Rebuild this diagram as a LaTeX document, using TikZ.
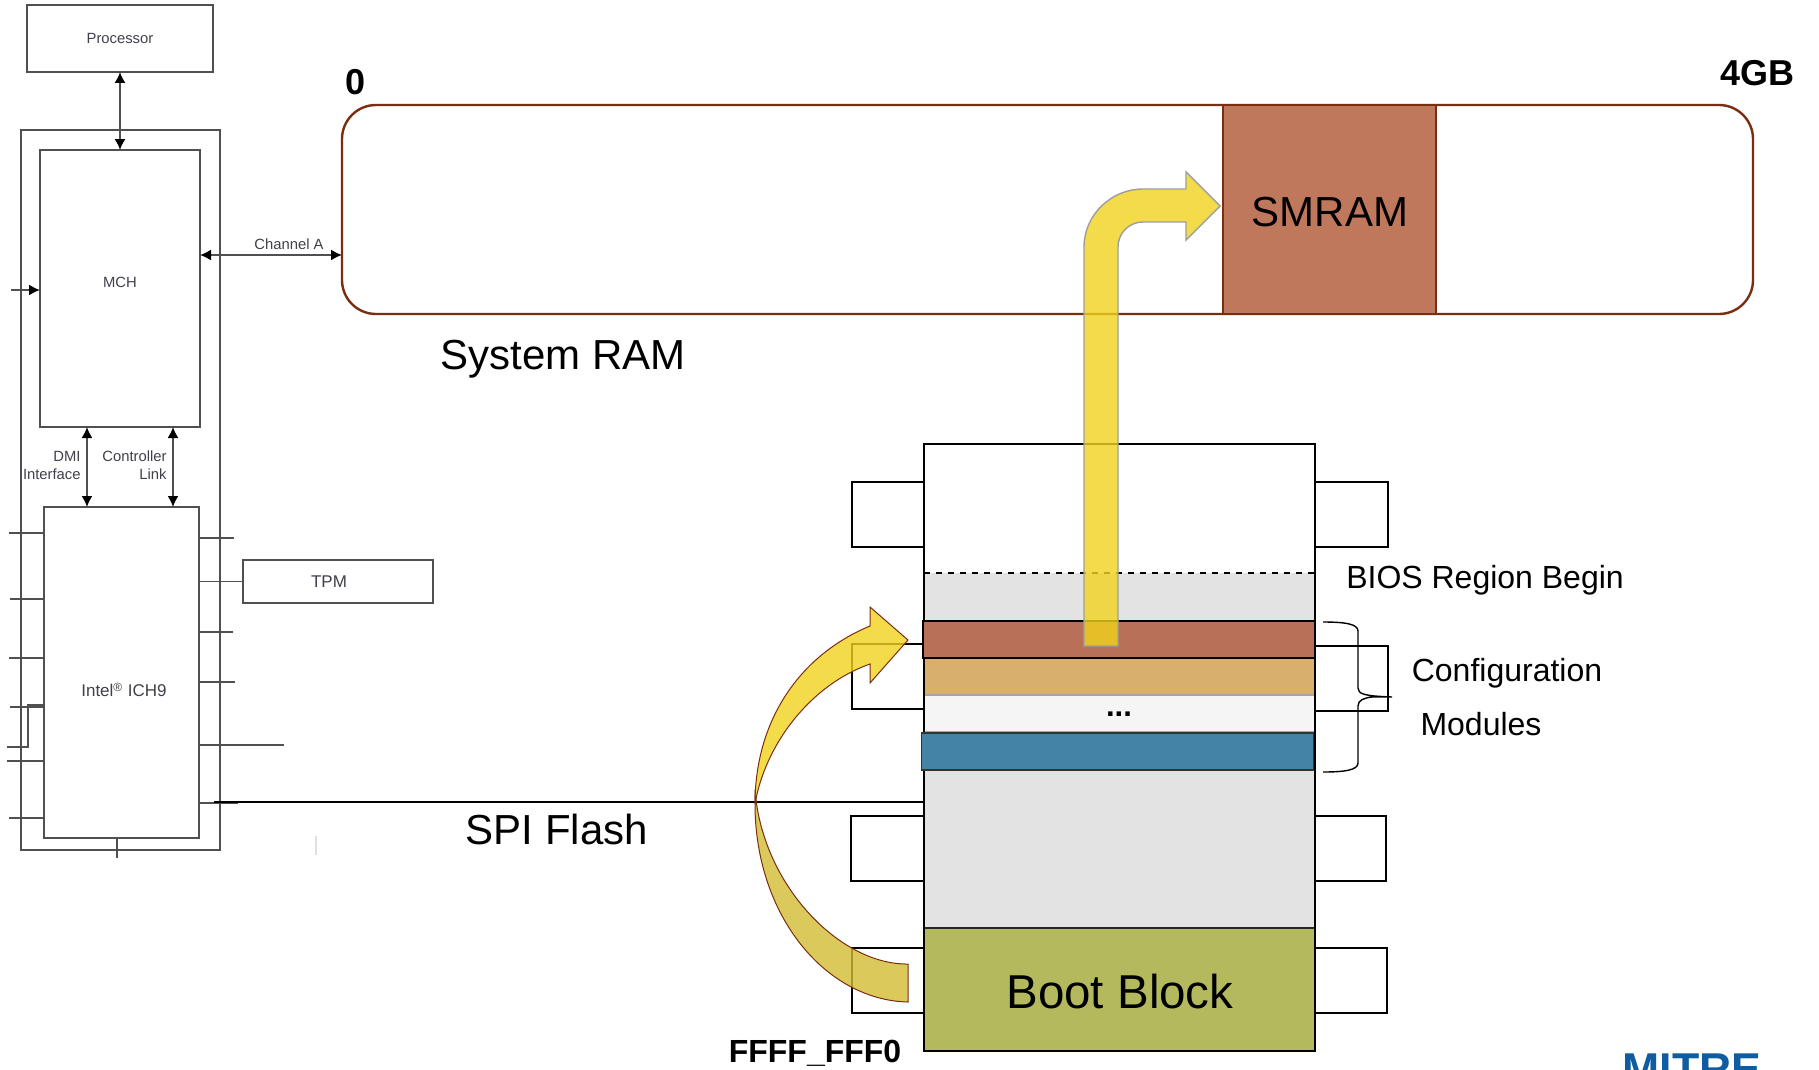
\documentclass[tikz,border=0pt]{standalone}
\usepackage{fontspec}
\setmainfont{Liberation Sans}
\usetikzlibrary{arrows.meta}
\definecolor{wire}{HTML}{505050}
\definecolor{wiretext}{HTML}{40404A}
\definecolor{ramline}{HTML}{7A2E10}
\definecolor{smramfill}{HTML}{C0785D}
\definecolor{bandred}{HTML}{B87058}
\definecolor{bandtan}{HTML}{D8B06C}
\definecolor{bandwhite}{HTML}{F5F5F5}
\definecolor{bandblue}{HTML}{4483A5}
\definecolor{chipgray}{HTML}{E3E3E3}
\definecolor{bootfill}{HTML}{B5B95E}
\definecolor{arrowyellow}{HTML}{F1D31D}
\definecolor{arrowdark}{HTML}{D2BC33}
\definecolor{mitreblue}{HTML}{0F5CA0}
\tikzset{
  wh/.style 2 args={minimum width=#1*0.5pt,minimum height=#2*0.5pt,inner sep=0pt,outer sep=0pt},
  wirebox/.style={draw=wire,line width=1pt,fill=white},
  wireline/.style={draw=wire,line width=0.85pt},
  wirearrow/.style={wireline,{Latex[length=5.5pt,width=5.5pt,black]}-{Latex[length=5.5pt,width=5.5pt,black]}},
  small/.style={font=\fontsize{7.4}{9}\selectfont,text=wiretext,inner sep=0pt},
  rsmall/.style={small,anchor=east},
  big/.style={font=\fontsize{21}{25}\selectfont,text=black,inner sep=0pt},
  mid/.style={font=\fontsize{16}{19}\selectfont,text=black,inner sep=0pt},
  heavy/.style={font=\fontsize{18}{22}\selectfont\bfseries,text=black,inner sep=0pt},
  pin/.style={draw=black,line width=1pt,fill=white},
  layer/.style={line width=1pt},
  overlay arrow/.style={fill=arrowyellow,fill opacity=0.8,line width=0.7pt},
}
\begin{document}
\begin{tikzpicture}[x=0.5pt,y=-0.5pt]
\useasboundingbox (0,0) rectangle (1819,1070);
\fill[white] (0,0) rectangle (1819,1070);

% left block diagram
\node[wirebox,wh={186}{67}] (proc) at (120,38.5) {};
\node[small] (proctext) at (120,38) {Processor};
\node[wirebox,wh={199}{720}] (outer) at (120.5,490) {};
\node[wirebox,wh={160}{277}] (mch) at (120,288.5) {};
\node[small] (mchtext) at (120,282) {MCH};
\node[wirebox,wh={155}{331}] (ich) at (121.5,672.5) {};
\node[small,font=\fontsize{8.5}{10}\selectfont] (ichtext) at (124,690) {Intel\textsuperscript{®} ICH9};
\node[wirebox,wh={190}{43}] (tpm) at (338,581.5) {};
\node[small,font=\fontsize{8.5}{10}\selectfont] (tpmtext) at (329,581.5) {TPM};

\draw[wirearrow] (proc.south) -- (mch.north);
\draw[wirearrow] (ich.north -| 87,0) -- (mch.south -| 87,0);
\draw[wirearrow] (ich.north -| 173,0) -- (mch.south -| 173,0);
\node[small] (chantext) at (289,244) {Channel A};
\node[rsmall] (dmi) at (81,456) {DMI};
\node[rsmall] (iface) at (81,474) {Interface};
\node[rsmall] (ctrl) at (167,456) {Controller};
\node[rsmall] (link) at (167,474) {Link};

\foreach \yy/\xx in {533/9,599/10,658/9,707/10,761/7,818/9}
  \draw[wireline] (ich.west |- 0,\yy) -- (\xx,\yy);
\foreach \yy/\xx in {538/234,632/233,682/235,745/284,803/238}
  \draw[wireline] (ich.east |- 0,\yy) -- (\xx,\yy);
\draw[wireline] (ich.east |- tpm.west) -- (tpm.west);
\draw[wireline] (ich.west |- 0,705) -- (28,705) -- (28,747) -- (7,747);
\draw[wireline] (ich.south -| 117,0) -- (117,858);
\coordinate (inarrow) at (11,290);
\draw[wireline,-{Latex[length=5.5pt,width=5.5pt,black]}] (inarrow) -- (mch.west |- inarrow);
\draw[draw=black!12,line width=0.8pt] (316,836) -- (316,855);

% system RAM
\node[draw=ramline,line width=1.2pt,fill=white,rounded corners=17pt,wh={1411}{209}] (ram) at (1047.5,209.5) {};
\node[draw=ramline,line width=1.2pt,fill=smramfill,wh={213}{209}] (smram) at (1329.5,209.5) {};
\node[big] (smramtext) at (1330,212) {SMRAM};
\node[big] (ramtext) at (563,359) {System RAM};
\node[heavy] (zero) at (356,82) {0};
\node[heavy] (fourgb) at (1757,73) {4GB};
\draw[wirearrow] (mch.east |- 0,255) -- (ram.west |- 0,255);

% SPI flash chip: pins
\foreach \nm/\xa/\ya in {pa/888/514.5,pc/888/676.5,pe/887/848,pg/888/980.5}
  \node[pin,wh={73}{65}] (\nm) at (\xa,\ya) {};
\foreach \nm/\xa/\ya in {pb/1351/514.5,pd/1351/678.5,pf/1349.5/848,ph/1350.5/980.5}
  \node[pin,wh={73}{65}] (\nm) at (\xa,\ya) {};

% chip body
\node[fill=white,wh={391}{607}] (chip) at (1119,747.5) {};
\node[fill=chipgray,wh={391}{48}] (graya) at (1119,597) {};
\node[fill=chipgray,wh={391}{158}] (grayb) at (1119,849) {};
\node[draw=black!85,layer,fill=bootfill,wh={391}{123}] (boot) at (1119,989.5) {};
\node[draw=black!70,line width=0.8pt,fill=bandtan,wh={391}{37}] (tan) at (1119,676.5) {};
\node[draw=black!35,line width=0.8pt,fill=bandwhite,wh={391}{37}] (white) at (1119,713.5) {};
\draw[black,line width=1pt] (chip.north west) rectangle (chip.south east);
\node[draw=black,layer,fill=bandred,wh={392}{37}] (red) at (1118.5,639.5) {};
\node[draw=black!80,line width=0.7pt,fill=bandblue,wh={392}{37}] (blue) at (1117.5,751.5) {};
\draw[dashed,line width=1pt] (chip.west |- 0,573) -- (chip.east |- 0,573);
\node[font=\fontsize{15.5}{18}\selectfont\bfseries,inner sep=0pt] (dots) at (1119,714) {...};
\node[font=\fontsize{23.75}{28}\selectfont,inner sep=0pt] (boottext) at (1120,992) {Boot Block};

% SPI line
\coordinate (spistart) at (214,802);
\draw[black,line width=0.8pt] (spistart) -- (chip.west |- spistart);
\node[big] (spitext) at (557,829) {SPI Flash};

% labels
\node[mid] (bios) at (1485,580) {BIOS Region Begin};
\node[mid] (conf) at (1507,673) {Configuration};
\node[mid] (mods) at (1481,724) {Modules};
\node[font=\fontsize{16}{19}\selectfont\bfseries,inner sep=0pt] (addr) at (815,1053) {FFFF\_FFF0};

% brace
\draw[black,line width=0.7pt]
  (1323,622) .. controls (1345,622) and (1358,624) .. (1358,631)
  -- (1358,688) .. controls (1358,694) and (1364,696) .. (1392,697)
  (1392,697) -- (1372,697) .. controls (1364,698) and (1358,700) .. (1358,706)
  -- (1358,763) .. controls (1358,770) and (1345,772) .. (1323,772);

% yellow arrows
\draw[overlay arrow,draw=black!38]
  (1084,646) -- (1084,247) .. controls (1084,215) and (1111,189) .. (1143,189)
  -- (1186,189) -- (1186,172) -- (1220,206) -- (1186,240) -- (1186,222)
  -- (1143,222) .. controls (1129,222) and (1118,233) .. (1118,247)
  -- (1118,646) -- cycle;
\draw[overlay arrow,fill=arrowdark,draw=ramline,line width=0.5pt]
  (908,1002) .. controls (825,1000) and (755,915) .. (755,804)
  -- (755,790) .. controls (762,885) and (840,965) .. (908,964) -- cycle;
\draw[overlay arrow,draw=ramline,line width=0.5pt]
  (755,804) .. controls (755,720) and (800,655) .. (870,626)
  -- (870,607) -- (908,640) -- (870,683) -- (870,664)
  .. controls (810,685) and (765,745) .. (755,804) -- cycle;

% cropped logo
\begin{scope}
\clip (0,0) rectangle (1819,1070);
\node[anchor=base,inner sep=0pt,font=\fontsize{22.3}{26}\selectfont\bfseries,text=mitreblue] (mitre) at (1692,1084) {MITRE};
\end{scope}
\end{tikzpicture}
\end{document}
